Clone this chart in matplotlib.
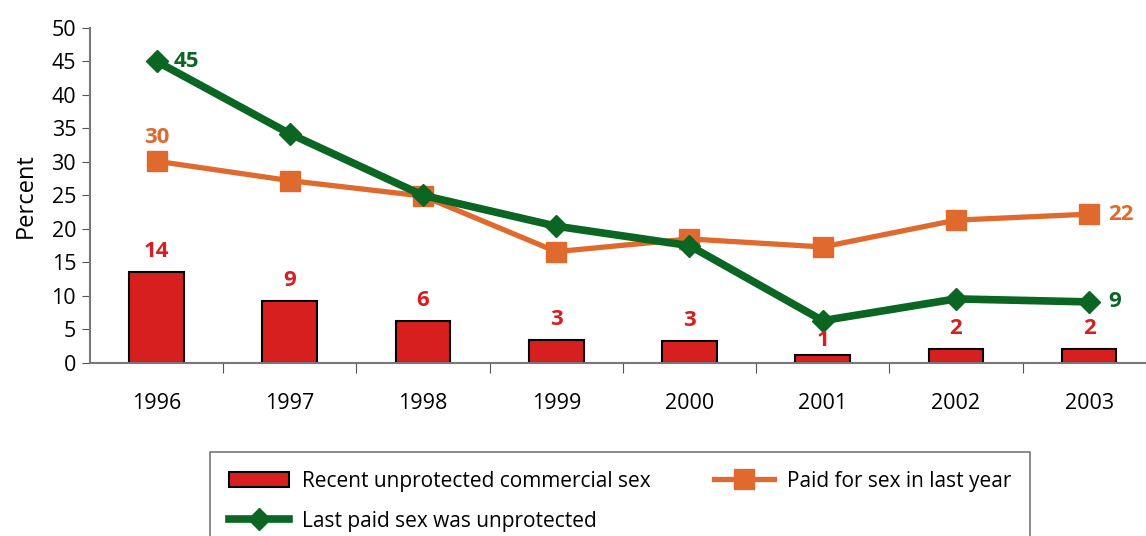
import matplotlib.pyplot as plt
from matplotlib.patches import Patch
from matplotlib.lines import Line2D

plt.rcParams['font.family'] = ['Open Sans', 'DejaVu Sans']

years = ['1996', '1997', '1998', '1999', '2000', '2001', '2002', '2003']
unprotected_recent = [13.6, 9.2, 6.3, 3.4, 3.3, 1.2, 2.1, 2.1]
paid_last_year = [30.1, 27.2, 24.9, 16.6, 18.5, 17.3, 21.3, 22.2]
last_paid_unprot = [45.0, 34.2, 25.0, 20.4, 17.5, 6.3, 9.55, 9.1]
bar_labels = ['14', '9', '6', '3', '3', '1', '2', '2']

red = '#D71F1F'
orange = '#E06A2E'
green = '#0B6623'

fig = plt.figure(figsize=(11.46, 5.36), dpi=100)
ax = fig.add_axes([0.0785, 0.323, 0.93, 0.625])

x = list(range(len(years)))
ax.bar(x, unprotected_recent, width=0.41, color=red, edgecolor='black', linewidth=1.5, zorder=2)
ax.plot(x, paid_last_year, color=orange, lw=3.8, marker='s', markersize=14, zorder=3)
ax.plot(x, last_paid_unprot, color=green, lw=5.5, marker='D', markersize=11, zorder=4)

for i, v in enumerate(unprotected_recent):
    off = 0.5 if years[i] == '2001' else 1.5
    ax.text(i, v + off, bar_labels[i], color=red, fontsize=16, fontweight='bold',
            ha='center', va='bottom', zorder=5)

ax.text(0.13, 45, '45', color=green, fontsize=16, fontweight='bold', va='center')
ax.text(0, 32, '30', color=orange, fontsize=16, fontweight='bold', ha='center', va='bottom')
ax.text(7.14, 22.2, '22', color=orange, fontsize=16, fontweight='bold', va='center')
ax.text(7.14, 9.1, '9', color=green, fontsize=16, fontweight='bold', va='center')

ax.set_xlim(-0.5, 7.5)
ax.set_ylim(0, 50)
ax.set_yticks(range(0, 51, 5))
ax.set_xticks([i - 0.5 for i in range(1, 8)], minor=False)
ax.set_xticklabels([])
ax.set_xticks(x, minor=True)
ax.set_xticklabels(years, minor=True)
ax.tick_params(axis='x', which='minor', length=0, pad=22, labelsize=15.5)
ax.tick_params(axis='x', which='major', length=7, color='#555555', direction='out')
ax.tick_params(axis='y', length=6, color='#555555', labelsize=15.5, pad=4)
ax.set_ylabel('Percent', fontsize=17, labelpad=10)
for s in ['top', 'right']:
    ax.spines[s].set_visible(False)
for s in ['left', 'bottom']:
    ax.spines[s].set_color('#777777')
    ax.spines[s].set_linewidth(1.5)

handles = [
    Patch(facecolor=red, edgecolor='black', linewidth=1.5),
    Line2D([], [], color=green, lw=5.5, marker='D', markersize=11),
    Line2D([], [], color=orange, lw=3.8, marker='s', markersize=14),
]
labels = ['Recent unprotected commercial sex', 'Last paid sex was unprotected', 'Paid for sex in last year']
leg = fig.legend(handles, labels, ncol=2, loc='upper left',
                 bbox_to_anchor=(210 / 1146, -0.05, 820 / 1146, 1.05 - 452 / 536),
                 mode='expand', fontsize=15, frameon=True, fancybox=False,
                 handlelength=2.9, handleheight=0.8, borderpad=0.9, labelspacing=0.9,
                 handletextpad=0.6, borderaxespad=0)
leg.get_frame().set_edgecolor('#555555')
leg.get_frame().set_linewidth(1.2)

fig.savefig('out.png', dpi=100)
